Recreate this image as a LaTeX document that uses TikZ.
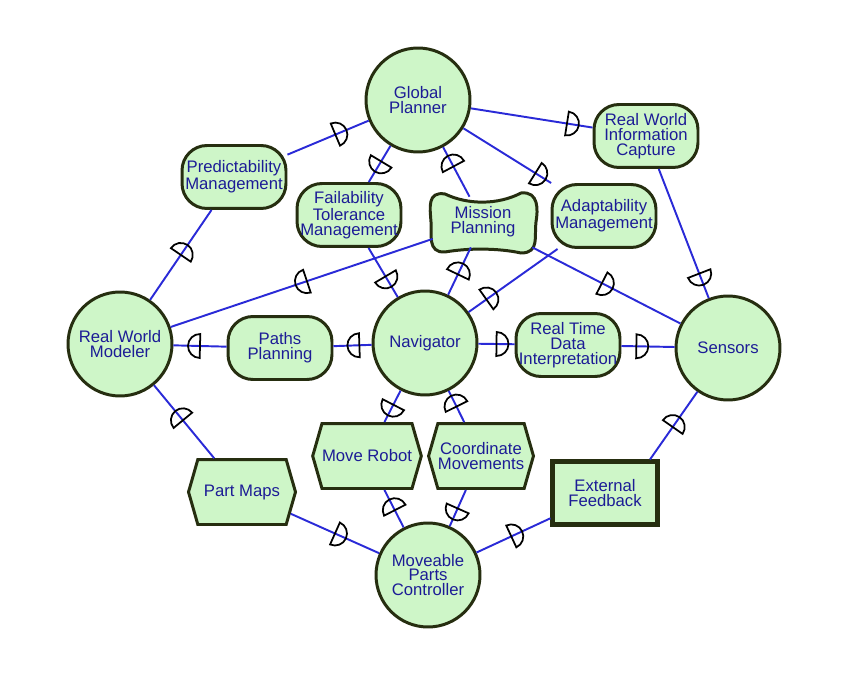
\documentclass[tikz,border=0pt]{standalone}
\usepackage{fontspec}
\setmainfont{Liberation Sans}
\usetikzlibrary{shapes.symbols}
\definecolor{nodegreen}{RGB}{206,246,200}
\definecolor{rimdark}{RGB}{38,46,16}
\definecolor{wireblue}{RGB}{42,42,215}
\definecolor{textblue}{RGB}{28,28,150}

\begin{document}
\begin{tikzpicture}[x=0.02cm,y=-0.02cm,
    every node/.style={font=\fontsize{9.5}{8.4}\selectfont, text=textblue, align=center, inner sep=0pt},
    unit/.style={circle, draw=rimdark, fill=nodegreen, line width=1.7pt, minimum size=2.08cm},
    service/.style={rectangle, rounded corners=0.5cm, draw=rimdark, fill=nodegreen, line width=1.7pt, minimum width=2.08cm, minimum height=1.26cm},
    store/.style={signal, signal to=east and west, signal from=nowhere, signal pointer angle=148, draw=rimdark, fill=nodegreen, line width=1.7pt, minimum width=2.04cm, minimum height=1.3cm},
    feed/.style={rectangle, draw=rimdark, fill=nodegreen, line width=2.3pt, minimum width=2.1cm, minimum height=1.26cm},
    blob/.style={draw=rimdark, fill=nodegreen, line width=1.7pt},
    wire/.style={draw=wireblue, line width=1.1pt},
    socketfwd/.pic={\draw[black, line width=1pt] (0,-12) -- (0,12) arc[start angle=90, end angle=-90, radius=12] -- cycle;},
    socketback/.pic={\draw[black, line width=1pt] (0,-12) -- (0,12) arc[start angle=90, end angle=270, radius=12] -- cycle;},
]
    \useasboundingbox (0,0) rectangle (851,675);

    % Planning layer
    \node[unit] (gp) at (418,100) {Global\\Planner};
    \node[service] (rwic) at (646,136) {Real World\\Information\\Capture};
    \node[service] (pm) at (234,177) {Predictability\\Management};
    \node[service] (ftm) at (349,215) {Failability\\Tolerance\\Management};
    \node[service] (am) at (604,216) {Adaptability\\Management};

    % Mission Planning outline
    \begin{scope}[shift={(483,222)}]
        \draw[blob] (-38,-28) .. controls (-15,-17) and (15,-17) .. (38,-29)
            .. controls (56,-31) and (55,-12) .. (53,0)
            .. controls (51,14) and (57,31) .. (38,31)
            .. controls (15,26) and (-15,26) .. (-38,30)
            .. controls (-56,31) and (-51,12) .. (-52,0)
            .. controls (-53,-14) and (-56,-31) .. (-38,-28) -- cycle;
    \end{scope}
    \node[minimum width=2cm, minimum height=1cm] (mp) at (483,222) {Mission\\Planning};

    % Middle row
    \node[unit] (rwm) at (120,344) {Real World\\Modeler};
    \node[service] (pp) at (280,348) {Paths\\Planning};
    \node[unit] (nav) at (425,343) {Navigator};
    \node[service] (rtdi) at (568,345) {Real Time\\Data\\Interpretation};
    \node[unit] (sen) at (728,348) {Sensors};

    % Lower part
    \node[store, minimum width=1.9cm] (mr) at (367,456) {Move Robot};
    \node[store, minimum width=1.8cm] (cm) at (481,456) {Coordinate\\Movements};
    \node[store, minimum width=2.14cm] (pmaps) at (242,492) {Part Maps};
    \node[feed] (ef) at (605,493) {External\\Feedback};
    \node[unit] (mpc) at (428,575) {Moveable\\Parts\\Controller};

    % Connectors round the planner
    \draw[wire] (gp) -- pic[pos=.79, sloped]{socketfwd} (rwic);
    \draw[wire] (gp) -- pic[pos=.82, sloped]{socketfwd} (am);
    \draw[wire] (gp) -- pic[pos=.39, sloped]{socketback} (mp);
    \draw[wire] (gp) -- pic[pos=.43, sloped]{socketback} (ftm);
    \draw[wire] (gp) -- pic[pos=.41, sloped]{socketfwd} (pm);
    \draw[wire] (pm) -- pic[pos=.5, sloped]{socketfwd} (rwm);
    \draw[wire] (rwm) -- pic[pos=.52, sloped]{socketback} (mp);
    \draw[wire] (mp) -- pic[pos=.47, sloped]{socketfwd} (sen);
    \draw[wire] (rwic) -- pic[pos=.81, sloped]{socketfwd} (sen);
    \draw[wire] (ftm) -- pic[pos=.58, sloped]{socketfwd} (nav);
    \draw[wire] (mp) -- pic[pos=.57, sloped]{socketfwd} (nav);
    \draw[wire] (am) -- pic[pos=.8, sloped]{socketfwd} (nav);

    % Middle row connectors
    \draw[wire] (rwm) -- pic[pos=.5, sloped]{socketback} (pp);
    \draw[wire] (pp) -- pic[pos=.68, sloped]{socketback} (nav);
    \draw[wire] (nav) -- pic[pos=.5, sloped]{socketfwd} (rtdi);
    \draw[wire] (rtdi) -- pic[pos=.28, sloped]{socketfwd} (sen);

    % Connectors to the controller
    \draw[wire] (rwm) -- pic[pos=.48, sloped]{socketback} (pmaps);
    \draw[wire] (nav) -- pic[pos=.45, sloped]{socketback} (mr);
    \draw[wire] (nav) -- pic[pos=.5, sloped]{socketback} (cm);
    \draw[wire] (mr) -- pic[pos=.54, sloped]{socketback} (mpc);
    \draw[wire] (cm) -- pic[pos=.51, sloped]{socketback} (mpc);
    \draw[wire] (pmaps) -- pic[pos=.5, sloped]{socketfwd} (mpc);
    \draw[wire] (ef) -- pic[pos=.53, sloped]{socketfwd} (mpc);
    \draw[wire] (sen) -- pic[pos=.52, sloped]{socketfwd} ([xshift=0.9cm]ef.north);
\end{tikzpicture}
\end{document}
